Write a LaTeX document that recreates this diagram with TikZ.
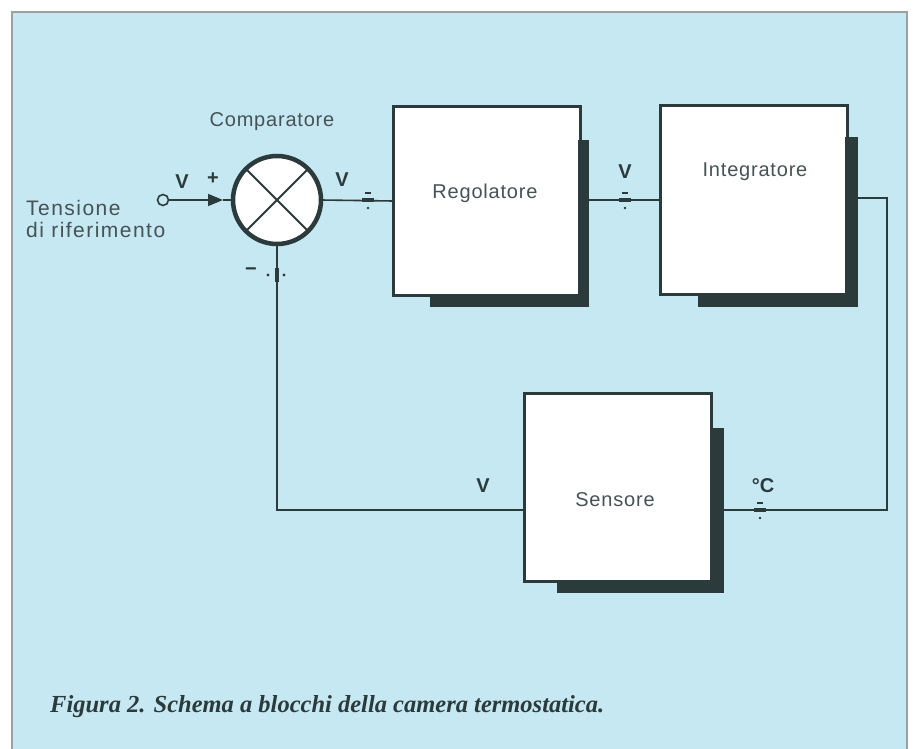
\documentclass[tikz,border=0pt]{standalone}
\usepackage{fontspec}
\setmainfont{Liberation Sans}
\newfontfamily\labfont[LetterSpace=4]{Liberation Sans}
\newfontfamily\tensfont[LetterSpace=7]{Liberation Sans}
\newfontfamily\capfont{Liberation Serif}
\usetikzlibrary{arrows.meta,calc}
\definecolor{bg}{HTML}{C6E8F3}
\definecolor{ink}{HTML}{2B3A3A}
\definecolor{txt}{HTML}{465253}
\tikzset{
  box/.style={draw=ink, line width=3pt, fill=white, minimum width=187pt, minimum height=188pt, inner sep=0pt, outer sep=0pt},
  wire/.style={draw=ink, line width=1.6pt},
  lab/.style={text=txt, font=\labfont\fontsize{20}{22}\selectfont, inner sep=0pt},
  vlab/.style={text=ink, font=\bfseries\fontsize{20}{22}\selectfont, inner sep=0pt},
  mkh/.pic={\draw[ink, line width=3.4pt] (-6,0) -- (6,0);
            \draw[ink, line width=1.2pt] (-3,-7) -- (3,-7);
            \fill[ink] (0,8) circle (1.4pt);},
  mkv/.pic={\draw[ink, line width=3.4pt] (0,-7) -- (0,7);
            \fill[ink] (-9,0) circle (1.6pt);
            \fill[ink] (7,0) circle (1.6pt);}
}
\begin{document}
\begin{tikzpicture}[x=1pt,y=-1pt]
\useasboundingbox (0,0) rectangle (913,749);
\fill[white] (0,0) rectangle (913,749);
\fill[bg] (12,12) rectangle (907,749);
\draw[gray!75, line width=1.2pt] (12,749) -- (12,12) -- (907,12) -- (907,749);

% blocks
\node[box] (reg) at (486.5,201) {};
\node[box] (int) at (753.5,200) {};
\node[box] (sen) at (618,487) {};
% shadows
\fill[ink] ($(reg.north east)+(-2,33)$) rectangle ($(reg.south east)+(9,12)$);
\fill[ink] ($(reg.south west)+(37,-1)$) rectangle ($(reg.south east)+(9,12)$);
\fill[ink] ($(int.north east)+(-2,31)$) rectangle ($(int.south east)+(11,13)$);
\fill[ink] ($(int.south west)+(38,-1)$) rectangle ($(int.south east)+(11,13)$);
\fill[ink] ($(sen.north east)+(-1,35)$) rectangle ($(sen.south east)+(12,12)$);
\fill[ink] ($(sen.south west)+(32,-1)$) rectangle ($(sen.south east)+(12,12)$);

% comparator
\node[circle, draw=ink, line width=4.5pt, fill=white, minimum size=88pt, inner sep=0pt, outer sep=0pt] (cmp) at (277,200) {};
\draw[ink, line width=2pt] (cmp.45) -- (cmp.225);
\draw[ink, line width=2pt] (cmp.135) -- (cmp.315);

% input
\node[circle, draw=ink, line width=1.6pt, fill=bg, minimum size=11pt, inner sep=0pt] (inp) at (163,200) {};
\coordinate (tip) at (223,200);
\draw[wire, -{Triangle[length=15pt,width=12pt]}] (inp) -- (tip);
\draw[wire] (tip) -- (cmp.west);

% wires
\coordinate (fbR) at (887,510);
\coordinate (fbL) at (277,510);
\draw[wire] (cmp.east) -- (reg.west);
\draw[wire] ($(reg.east)+(9,-1)$) -- (int.west);
\draw[wire] ($(int.east)+(11,-2)$) -| (fbR) -- ($(sen.east |- fbR)+(12,0)$);
\draw[wire] (sen.west |- fbL) -- (fbL) -- (cmp.south);

% markers
\pic at (368,200) {mkh};
\pic at (625,200) {mkh};
\pic at (760,510) {mkh};
\pic at (277,275) {mkv};

% labels
\node[lab] (cmpl) at (272,122) {Comparatore};
\node[text=txt, inner sep=0pt, font=\tensfont\fontsize{21}{22}\selectfont, align=left, anchor=west] (tens) at (26,219) {Tensione\\di riferimento};
\node[lab] (regl) at (485,193) {Regolatore};
\node[lab] (intl) at (755,172) {Integratore};
\node[lab] (senl) at (615,500) {Sensore};
\node[vlab] (v1) at (182,182) {V};
\node[vlab] (p1) at (213,179) {+};
\node[vlab] (v2) at (342,180) {V};
\node[vlab] (v3) at (625,172) {V};
\node[vlab] (v4) at (483,486) {V};
\node[vlab] (degc) at (763,486) {°C};
\node[vlab] (minus) at (251,272) {−};

% caption
\node[anchor=base west, text=ink, inner sep=0pt, font=\capfont\bfseries\itshape\fontsize{24.5}{26}\selectfont] (cap) at (50,712) {Figura 2. Schema a blocchi della camera termostatica.};
\end{tikzpicture}
\end{document}
